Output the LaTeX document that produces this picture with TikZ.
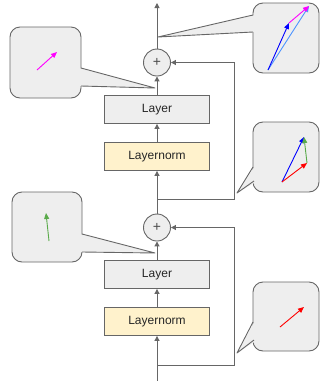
\documentclass[tikz,border=0pt]{standalone}
\usepackage{fontspec}
\setmainfont{Liberation Sans}
\usetikzlibrary{arrows.meta}
\definecolor{edge}{HTML}{666666}
\definecolor{boxgray}{HTML}{EEEEEE}
\definecolor{normyellow}{HTML}{FFF2CC}
\definecolor{vmagenta}{HTML}{FF00FF}
\definecolor{vblue}{HTML}{0000FF}
\definecolor{vlightblue}{HTML}{4D94FF}
\definecolor{vred}{HTML}{FF0000}
\definecolor{vgreen}{HTML}{5AAA4A}
\tikzset{
  blockbase/.style={draw=edge, line width=0.9pt, minimum width=105pt, minimum height=28pt,
    inner sep=0pt, font=\fontsize{12}{14}\selectfont, text=black!85},
  layerbox/.style={blockbase, fill=boxgray},
  normbox/.style={blockbase, fill=normyellow},
  addnode/.style={circle, draw=edge, fill=boxgray, line width=0.9pt, minimum size=27pt,
    inner sep=0pt, font=\fontsize{14}{16}\selectfont, text=black!70},
  flow/.style={draw=edge, line width=1pt, -{Triangle[length=5pt,width=5pt]}},
  bubble/.style={draw=edge, fill=boxgray, line width=0.9pt, rounded corners=10pt},
  bubblefill/.style={fill=boxgray},
  bubbleedge/.style={draw=edge, line width=0.9pt, line join=round},
  vec/.style={line width=0.9pt, -{Triangle[length=6pt,width=5pt]}},
}
\begin{document}
\begin{tikzpicture}[x=1pt, y=-1pt]
\useasboundingbox (0,0) rectangle (320,381);

% ---- speech bubbles with the vector sketches ----
% upper left
\draw[bubble] (10,27) rectangle (81,98);
\fill[bubblefill] (79,68) -- (155,88) -- (79,86) -- cycle;
\draw[bubbleedge] (81,68) -- (155,88) -- (81,86);
\draw[vec, vmagenta] (37,70) -- (57,52);

% upper right
\draw[bubble] (253,3) rectangle (319,73);
\fill[bubblefill] (255,15) -- (158,37) -- (255,32) -- cycle;
\draw[bubbleedge] (253,15) -- (158,37) -- (253,32);
\draw[vec, vlightblue] (268,70) -- (309,6);
\draw[vec, vblue] (268,70) -- (289,23);
\draw[vec, vmagenta] (289,23) -- (309,6);

% middle right
\draw[bubble] (253,122) rectangle (319,192);
\fill[bubblefill] (255,166) -- (237,193) -- (256,182) -- cycle;
\draw[bubbleedge] (253,167) -- (237,193) -- (254,181);
\draw[vec, vblue] (282,182) -- (304,137);
\draw[vec, vred] (282,182) -- (307,163);
\draw[vec, vgreen] (307,163) -- (304,137);

% middle left
\draw[bubble] (12,192) rectangle (82,262);
\fill[bubblefill] (80,234) -- (155,253) -- (80,252) -- cycle;
\draw[bubbleedge] (82,234) -- (155,253) -- (82,252);
\draw[vec, vgreen] (49,241) -- (46,213);

% lower right
\draw[bubble] (253,282) rectangle (319,351);
\fill[bubblefill] (255,321) -- (237,353) -- (256,341) -- cycle;
\draw[bubbleedge] (253,322) -- (237,353) -- (254,340);
\draw[vec, vred] (280,327) -- (304,307);

% ---- residual stack ----
\node[addnode]  (add1)   at (157,62.5)  {+};
\node[layerbox] (layer1) at (157,109.5) {Layer};
\node[normbox]  (norm1)  at (157,156.5) {Layernorm};
\node[addnode]  (add2)   at (157,227.5) {+};
\node[layerbox] (layer2) at (157,274.5) {Layer};
\node[normbox]  (norm2)  at (157,321.5) {Layernorm};

\coordinate (in)     at (157,381);
\coordinate (out)    at (157,3);
\coordinate (split2) at (157,365);
\coordinate (skip2)  at (234,365);
\coordinate (split1) at (157,199);
\coordinate (skip1)  at (234,199);

\draw[flow] (in) -- (norm2);
\draw[flow] (norm2) -- (layer2);
\draw[flow] (layer2) -- (add2);
\draw[flow] (add2) -- (norm1);
\draw[flow] (norm1) -- (layer1);
\draw[flow] (layer1) -- (add1);
\draw[flow] (add1) -- (out);

\draw[flow] (split2) -- (skip2) |- (add2.east);
\draw[flow] (split1) -- (skip1) |- (add1.east);
\end{tikzpicture}
\end{document}
